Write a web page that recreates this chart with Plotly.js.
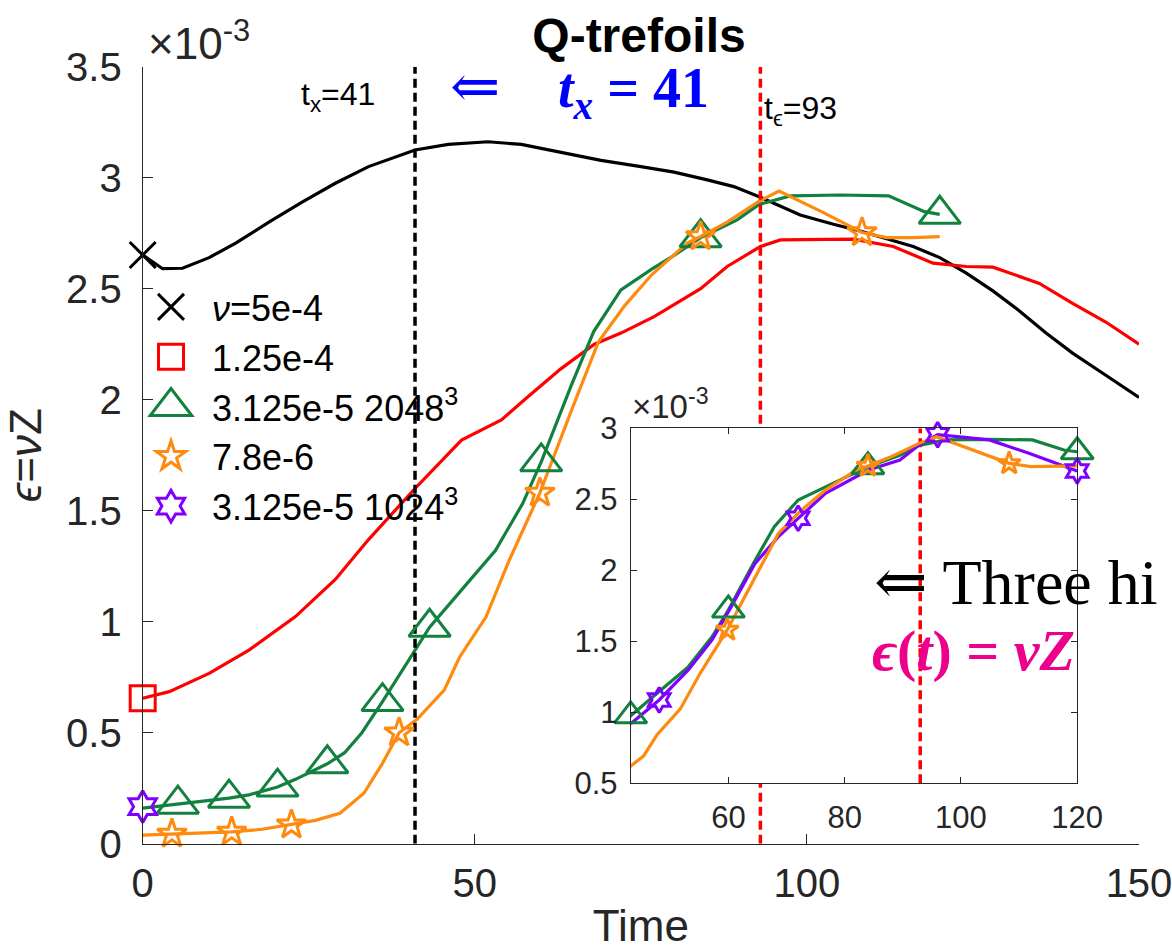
<!DOCTYPE html>
<html>
<head>
<meta charset="utf-8">
<script src="https://cdn.plot.ly/plotly-3.0.1.min.js"></script>
<style>
  html, body { margin: 0; padding: 0; background: #ffffff; }
  #chart { width: 1172px; height: 950px; }
</style>
</head>
<body>
<div id="chart"></div>
<script>
// Energy dissipation rate eps = nu*Z for the Q-trefoil runs (values in units of 1e-3)
const tX = 41;    // reconnection time t_x
const tEps = 93;  // time of peak dissipation t_eps

// nu = 5e-4
const blackT = [0, 3, 6, 10, 14, 19, 24, 29, 34, 41, 46, 52, 57, 63, 69, 75, 80, 85, 89, 93, 99, 104, 108, 112, 116, 120, 124, 128, 132, 136, 140, 145, 150];
const blackV = [2.652, 2.59, 2.592, 2.64, 2.705, 2.80, 2.89, 2.975, 3.05, 3.125, 3.15, 3.162, 3.15, 3.115, 3.078, 3.05, 3.025, 2.99, 2.96, 2.912, 2.832, 2.79, 2.76, 2.725, 2.69, 2.64, 2.57, 2.49, 2.40, 2.30, 2.21, 2.11, 2.01];

// nu = 1.25e-4
const redT = [0, 4, 10, 16, 23, 29, 34, 41, 48, 54, 58, 63, 68, 72, 77, 84, 88, 93, 96, 100, 107, 113, 119, 124, 128, 135, 140, 145, 150];
const redV = [0.655, 0.685, 0.767, 0.872, 1.023, 1.19, 1.37, 1.60, 1.818, 1.909, 2.013, 2.14, 2.25, 2.30, 2.374, 2.50, 2.60, 2.69, 2.72, 2.72, 2.723, 2.69, 2.615, 2.60, 2.597, 2.524, 2.434, 2.35, 2.25];

// nu = 3.125e-5, 2048^3
const greenT = [0, 2, 5.3, 8.5, 13, 16, 20.3, 23, 27.8, 30.4, 33, 36.1, 40.75, 43.2, 48.4, 53.1, 57.2, 60, 64.6, 67.9, 72, 76.7, 80, 84, 89.5, 92.8, 97.5, 105, 112.3, 117.7, 120];
const greenV = [0.16, 0.167, 0.178, 0.19, 0.205, 0.22, 0.255, 0.29, 0.36, 0.41, 0.50, 0.64, 0.862, 0.975, 1.157, 1.32, 1.532, 1.72, 2.07, 2.307, 2.495, 2.589, 2.65, 2.73, 2.81, 2.88, 2.918, 2.922, 2.918, 2.847, 2.835];
const greenMarkT = [5.3, 13, 20.3, 27.8, 36.1, 43.2, 60, 84, 120];

// nu = 7.8e-6
const orangeT = [0, 4.4, 9, 13.4, 18, 22.4, 26, 29.7, 33.3, 36.1, 38.6, 41.3, 45.4, 47.7, 51.7, 55.2, 59.8, 64.6, 68.6, 72.6, 76.7, 82, 84, 88, 92.8, 95.8, 102.2, 108.3, 112, 116, 120];
const orangeV = [0.039, 0.044, 0.049, 0.053, 0.065, 0.085, 0.105, 0.137, 0.227, 0.362, 0.50, 0.56, 0.692, 0.84, 1.022, 1.278, 1.58, 1.955, 2.26, 2.425, 2.565, 2.706, 2.735, 2.80, 2.894, 2.94, 2.847, 2.753, 2.73, 2.73, 2.735];
const orangeMarkT = [4.4, 13.4, 22.4, 38.6, 59.8, 84, 108.3];

// nu = 3.125e-5, 1024^3
const purpleStartT = [0];
const purpleStartV = [0.167];
const purpleT = [43.2, 48.1, 53.1, 57.2, 60.5, 64.6, 68.6, 72, 76.7, 84.1, 89.5, 92.8, 96, 104.9, 111.7, 120];
const purpleV = [0.92, 1.087, 1.298, 1.51, 1.744, 2.049, 2.237, 2.366, 2.542, 2.706, 2.777, 2.882, 2.955, 2.918, 2.824, 2.70];
const purpleMarkT = [48.1, 72, 96, 120];

const seriesNames = ['<i>ν</i>=5e-4', '1.25e-4', '3.125e-5 2048<sup>3</sup>', '7.8e-6', '3.125e-5 1024<sup>3</sup>'];

const mainXTicks = [0, 50, 100, 150];
const mainYTicks = [0, 0.5, 1, 1.5, 2, 2.5, 3, 3.5];
const insetXTicks = [60, 80, 100, 120];
const insetYTicks = [0.5, 1, 1.5, 2, 2.5, 3];
const mainXRange = [0, 150];
const mainYRange = [0, 3.5];
const insetXRange = [43.2, 120];
const insetYRange = [0.5, 3];

const COL = { black: '#000000', red: '#ff0000', green: '#12803f', orange: '#ff8a10', purple: '#7f00ff', axis: '#262626' };
const SANS = 'Liberation Sans, Arial, Helvetica, sans-serif';
const SERIF = 'Liberation Serif, DejaVu Serif, Times New Roman, serif';

const pick = (T, V, marks) => marks.map(t => V[T.indexOf(t)]);

function line(x, y, color, xa, ya) {
  return { x, y, xaxis: xa, yaxis: ya, mode: 'lines', line: { color, width: 3.2 }, showlegend: false, hoverinfo: 'skip' };
}
function marks(x, y, color, symbol, size, xa, ya, name) {
  return {
    x, y, xaxis: xa, yaxis: ya, mode: 'markers', name: name || '', showlegend: !!name, cliponaxis: false,
    marker: { symbol, size, color, line: { color, width: 3 } }, hoverinfo: 'skip'
  };
}
function vline(t, range, color, xa, ya) {
  return { x: [t, t], y: range, xaxis: xa, yaxis: ya, mode: 'lines', line: { color, width: 3.5, dash: '9px,5px' }, showlegend: false, hoverinfo: 'skip' };
}

const traces = [
  // main panel
  line(blackT, blackV, COL.black, 'x', 'y'),
  line(redT, redV, COL.red, 'x', 'y'),
  line(greenT, greenV, COL.green, 'x', 'y'),
  line(orangeT, orangeV, COL.orange, 'x', 'y'),
  vline(tX, mainYRange, COL.black, 'x', 'y'),
  vline(tEps, mainYRange, COL.red, 'x', 'y'),
  marks([blackT[0]], [blackV[0]], COL.black, 'x-thin', 26, 'x', 'y', seriesNames[0]),
  marks([redT[0]], [redV[0]], COL.red, 'square-open', 25, 'x', 'y', seriesNames[1]),
  marks(greenMarkT, pick(greenT, greenV, greenMarkT), COL.green, 'triangle-up-open', 36, 'x', 'y', seriesNames[2]),
  marks(orangeMarkT, pick(orangeT, orangeV, orangeMarkT), COL.orange, 'star-open', 22, 'x', 'y', seriesNames[3]),
  marks(purpleStartT, purpleStartV, COL.purple, 'hexagram-open', 24, 'x', 'y', seriesNames[4]),
  // inset: the three highest-resolution runs
  vline(tEps, insetYRange, COL.red, 'x2', 'y2'),
  line(greenT, greenV, COL.green, 'x2', 'y2'),
  line(purpleT, purpleV, COL.purple, 'x2', 'y2'),
  line(orangeT, orangeV, COL.orange, 'x2', 'y2'),
  marks(greenMarkT, pick(greenT, greenV, greenMarkT), COL.green, 'triangle-up-open', 28, 'x2', 'y2'),
  marks(purpleMarkT, pick(purpleT, purpleV, purpleMarkT), COL.purple, 'hexagram-open', 19, 'x2', 'y2'),
  marks(orangeMarkT, pick(orangeT, orangeV, orangeMarkT), COL.orange, 'star-open', 17, 'x2', 'y2')
];

const W = 1172, H = 950;
const px = x => x / W;
const py = y => (H - y) / H;

const axisCommon = {
  showgrid: false, zeroline: false, showline: true, linecolor: COL.axis, linewidth: 1,
  ticks: 'inside', tickcolor: COL.axis, tickwidth: 1, ticklabeloverflow: 'allow'
};

const layout = {
  width: W, height: H,
  margin: { l: 0, r: 0, t: 0, b: 0 },
  paper_bgcolor: '#ffffff', plot_bgcolor: '#ffffff',
  showlegend: true,
  title: { text: 'Q-trefoils', x: px(639), y: py(35), xanchor: 'center', yanchor: 'middle', font: { family: SANS, size: 48, weight: 700, color: '#000' } },
  xaxis: Object.assign({}, axisCommon, {
    domain: [px(142.7), px(1139)], range: mainXRange, anchor: 'y',
    tickvals: mainXTicks, ticklen: 10, ticklabelstandoff: 4,
    tickfont: { family: SANS, size: 40, color: COL.axis },
    title: { text: 'Time', font: { family: SANS, size: 44, color: COL.axis }, standoff: 6 }
  }),
  yaxis: Object.assign({}, axisCommon, {
    domain: [py(843.7), py(66.7)], range: mainYRange, anchor: 'x',
    tickvals: mainYTicks, ticklen: 10, ticklabelstandoff: 12,
    tickfont: { family: SANS, size: 40, color: COL.axis },
    title: { text: '<i>ϵ</i>=<i>ν</i>Z', font: { family: SANS, size: 44, color: COL.axis }, standoff: 10 }
  }),
  xaxis2: Object.assign({}, axisCommon, {
    domain: [px(630.7), px(1077.2)], range: insetXRange, anchor: 'y2', mirror: 'ticks',
    tickvals: insetXTicks, ticklen: 6, ticklabelstandoff: 6,
    tickfont: { family: SANS, size: 31, color: COL.axis }
  }),
  yaxis2: Object.assign({}, axisCommon, {
    domain: [py(783.3), py(428.3)], range: insetYRange, anchor: 'x2', mirror: 'ticks',
    tickvals: insetYTicks, ticklen: 6, ticklabelstandoff: 6,
    tickfont: { family: SANS, size: 31, color: COL.axis }
  }),
  legend: {
    x: px(130), y: py(277), xanchor: 'left', yanchor: 'top',
    bgcolor: 'rgba(0,0,0,0)', borderwidth: 0, itemwidth: 72,
    font: { family: SANS, size: 36, color: '#000' }
  },
  annotations: [
    { text: '×10<sup>-3</sup>', x: px(146), y: py(40), xanchor: 'left', yanchor: 'middle', font: { family: SANS, size: 44, color: COL.axis } },
    { text: '×10<sup>-3</sup>', x: px(630), y: py(404), xanchor: 'left', yanchor: 'middle', font: { family: SANS, size: 33, color: COL.axis } },
    { text: 't<sub>x</sub>=41', x: px(299), y: py(96), xanchor: 'left', yanchor: 'middle', font: { family: SANS, size: 32, color: '#000' } },
    { text: '⇐', x: px(448), y: py(86), xanchor: 'left', yanchor: 'middle', font: { family: 'DejaVu Serif, serif', size: 60, color: '#0000ff' } },
    { text: '<b><i>t</i><sub><i>x</i></sub> = 41</b>', x: px(556), y: py(92), xanchor: 'left', yanchor: 'middle', font: { family: SERIF, size: 56, color: '#0000ff' } },
    { text: 't<sub>ϵ</sub>=93', x: px(762), y: py(110), xanchor: 'left', yanchor: 'middle', font: { family: SANS, size: 32, color: '#000' } },
    { text: '⇐ Three hi', x: px(872), y: py(582), xanchor: 'left', yanchor: 'middle', font: { family: SERIF, size: 64, color: '#000' } },
    { text: '<b><i>ϵ</i>(<i>t</i>) = <i>νZ</i></b>', x: px(870), y: py(650), xanchor: 'left', yanchor: 'middle', font: { family: SERIF, size: 58, color: '#ec008c' } }
  ].map(a => Object.assign({ xref: 'paper', yref: 'paper', showarrow: false }, a))
};

// Legend symbols are capped at 16 px by Plotly; scale them back up to the trace's marker size.
function enlargeLegendSymbols(gd) {
  gd.querySelectorAll('.legend .traces').forEach(item => {
    const d = item.__data__;
    const trace = d && d[0] && d[0].trace;
    if (!trace || !trace.marker) return;
    const k = Math.max(1, trace.marker.size / 16);
    item.querySelectorAll('path.scatterpts').forEach(p => {
      const base = (p.getAttribute('transform') || '').replace(/\s*scale\([^)]*\)/, '');
      p.setAttribute('transform', base + ' scale(' + k + ')');
      p.style.vectorEffect = 'non-scaling-stroke';
    });
  });
}

const gd = document.getElementById('chart');
Plotly.newPlot(gd, traces, layout, { displayModeBar: false, staticPlot: true }).then(() => {
  enlargeLegendSymbols(gd);
  gd.on('plotly_afterplot', () => enlargeLegendSymbols(gd));
});
</script>
</body>
</html>
